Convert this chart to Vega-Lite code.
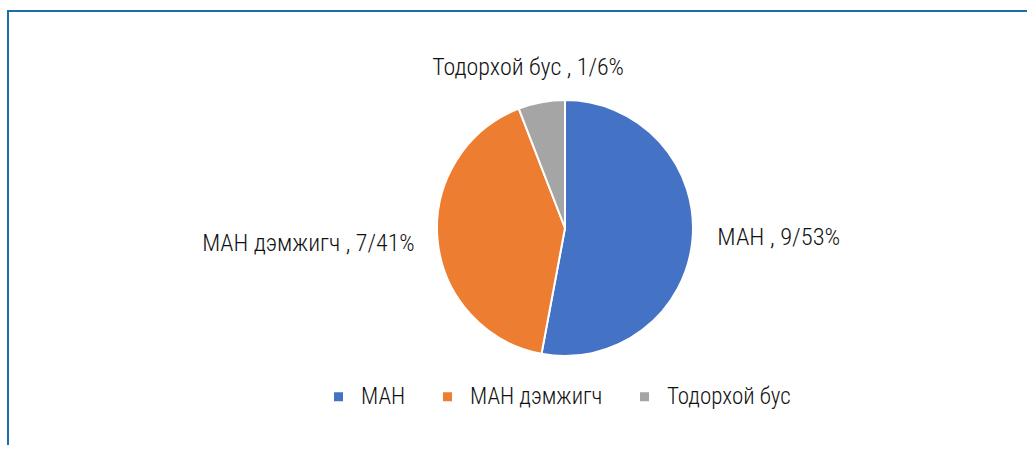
{
  "$schema": "https://vega.github.io/schema/vega-lite/v6.json",
  "width": 1114,
  "height": 434,
  "padding": {"left": 8, "top": 11, "right": 0, "bottom": 0},
  "background": "white",
  "view": {"stroke": "#1b6fa8", "strokeWidth": 2, "strokeDash": [1548, 1114, 434]},
  "config": {
    "font": "Roboto Condensed, Liberation Sans Narrow, DejaVu Sans Condensed, Roboto"
  },
  "data": {
    "values": [
      {"party": "МАН", "count": 9, "label": "МАН , 9/53%"},
      {"party": "МАН дэмжигч", "count": 7, "label": "МАН дэмжигч , 7/41%"},
      {"party": "Тодорхой бус", "count": 1, "label": "Тодорхой бус , 1/6%"}
    ]
  },
  "encoding": {
    "theta": {"field": "count", "type": "quantitative", "stack": true},
    "order": {"field": "party", "type": "nominal", "sort": "ascending"}
  },
  "layer": [
    {
      "mark": {"type": "arc", "outerRadius": 128, "stroke": "white", "strokeWidth": 2},
      "encoding": {
        "color": {
          "field": "party",
          "type": "nominal",
          "scale": {"domain": ["МАН", "МАН дэмжигч", "Тодорхой бус"], "range": ["#4472C4", "#ED7D31", "#A5A5A5"]},
          "legend": {
            "title": null,
            "orient": "none",
            "legendX": 319,
            "legendY": 374,
            "direction": "horizontal",
            "symbolType": "square",
            "symbolSize": 81,
            "symbolStrokeWidth": 0,
            "labelFontSize": 23,
            "labelFontWeight": 300,
            "labelColor": "#111111",
            "labelOffset": 11,
            "columnPadding": 30,
            "labelFont": "Roboto Condensed, Liberation Sans Narrow, DejaVu Sans Condensed, Roboto"
          }
        }
      }
    },
    {
      "mark": {"type": "text", "radius": 153, "align": "left", "baseline": "middle", "dy": -4, "fontSize": 24.5, "fontWeight": 300, "color": "#111111"},
      "encoding": {
        "text": {"condition": {"test": "datum.party === 'МАН'", "field": "label"}, "value": ""}
      }
    },
    {
      "mark": {"type": "text", "radius": 151, "align": "right", "baseline": "middle", "dy": 2, "fontSize": 24, "fontWeight": 300, "color": "#111111"},
      "encoding": {
        "text": {"condition": {"test": "datum.party === 'МАН дэмжигч'", "field": "label"}, "value": ""}
      }
    },
    {
      "mark": {"type": "text", "radius": 163, "align": "center", "baseline": "middle", "dx": -7, "fontSize": 24, "fontWeight": 300, "color": "#111111"},
      "encoding": {
        "text": {"condition": {"test": "datum.party === 'Тодорхой бус'", "field": "label"}, "value": ""}
      }
    }
  ]
}
